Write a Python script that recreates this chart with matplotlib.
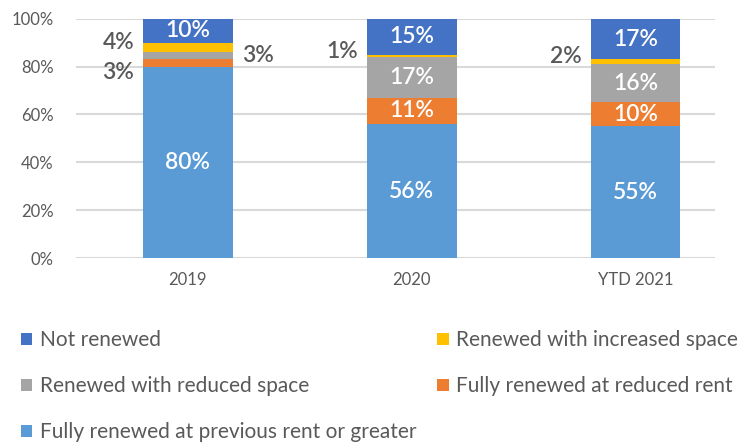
import numpy as np
import matplotlib
matplotlib.use("Agg")
from matplotlib import pyplot as plt
from matplotlib.ticker import PercentFormatter

plt.rcParams['font.family'] = ['Lato', 'DejaVu Sans']

years = ['2019', '2020', 'YTD 2021']
full_prev = [80, 56, 55]
full_reduced_rent = [3, 11, 10]
reduced_space = [3, 17, 16]
increased_space = [4, 1, 2]
not_renewed = [10, 15, 17]

series = [
  ('Fully renewed at previous rent or greater', full_prev, '#5B9BD5'),
  ('Fully renewed at reduced rent', full_reduced_rent, '#ED7D31'),
  ('Renewed with reduced space', reduced_space, '#A5A5A5'),
  ('Renewed with increased space', increased_space, '#FFC000'),
  ('Not renewed', not_renewed, '#4472C4'),
]

grey = '#595959'
lab_size = 16.5

fig = plt.figure(figsize=(7.56, 4.45), dpi=100)
ax = fig.add_axes([0.1005, 0.42, 0.8455, 0.538])

x = np.arange(len(years))
bottom = np.zeros(len(years))
bars = {}
for name, vals, col in series:
  vals = np.array(vals, dtype=float)
  bars[name] = ax.bar(x, vals, 0.4, bottom=bottom, color=col, label=name, zorder=3)
  for i in range(len(years)):
    if vals[i] >= 10:
      ax.text(x[i], bottom[i] + vals[i] / 2, '%d%%' % vals[i], ha='center', va='center',
              color='white', fontsize=lab_size, fontweight='semibold', zorder=4)
  bottom = bottom + vals

# small segments labelled outside the bars
b0 = full_prev[0]
ax.text(x[0] - 0.24, b0 + full_reduced_rent[0] / 2 - 4, '%d%%' % full_reduced_rent[0],
        ha='right', va='center', color=grey, fontsize=lab_size, fontweight='semibold')
ax.text(x[0] + 0.24, b0 + full_reduced_rent[0] + reduced_space[0] / 2, '%d%%' % reduced_space[0],
        ha='left', va='center', color=grey, fontsize=lab_size, fontweight='semibold')
for i in range(len(years)):
  base = full_prev[i] + full_reduced_rent[i] + reduced_space[i]
  ax.text(x[i] - 0.24, base + increased_space[i] / 2 + 2, '%d%%' % increased_space[i],
          ha='right', va='center', color=grey, fontsize=lab_size, fontweight='semibold')

ax.set_xlim(-0.5, 2.355)
ax.set_ylim(0, 100)
ax.set_yticks(range(0, 101, 20))
ax.yaxis.set_major_formatter(PercentFormatter(decimals=0))
ax.set_xticks(x)
ax.set_xticklabels(years)
ax.grid(axis='y', color='#D9D9D9', linewidth=1.5, zorder=0)
for s in ax.spines.values():
  s.set_visible(False)
ax.tick_params(length=0, labelsize=12, colors=grey, pad=10)
ax.tick_params(axis='y', pad=16)

order = ['Not renewed', 'Renewed with reduced space', 'Fully renewed at previous rent or greater',
         'Renewed with increased space', 'Fully renewed at reduced rent']
leg = fig.legend([bars[n] for n in order], order, loc='upper left', bbox_to_anchor=(0.003, 0.3),
                 ncol=2, frameon=False, fontsize=15, handlelength=0.55, handleheight=0.55,
                 handletextpad=0.35, labelspacing=1.25, columnspacing=1.0, labelcolor=grey)

fig.savefig('out.png', dpi=100)
